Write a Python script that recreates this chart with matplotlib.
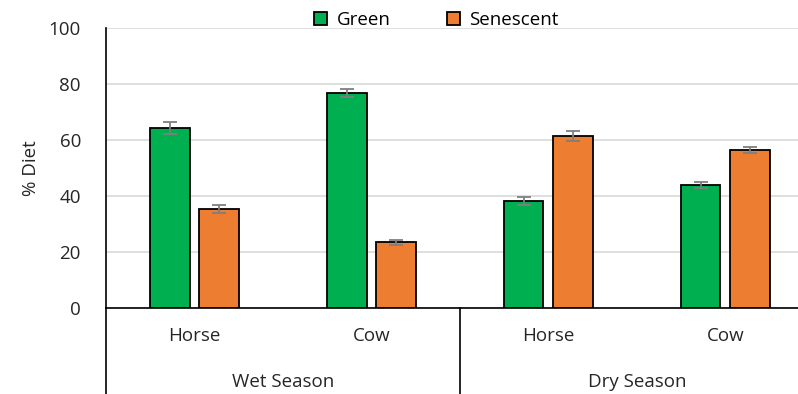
import numpy as np
import matplotlib.pyplot as plt

plt.rcParams['font.family'] = ['Open Sans', 'DejaVu Sans']

animals = ['Horse', 'Cow', 'Horse', 'Cow']
seasons = ['Wet Season', 'Dry Season']
green = [64.3, 76.8, 38.2, 43.9]
green_err = [2.0, 1.3, 1.4, 1.2]
senescent = [35.4, 23.4, 61.4, 56.4]
senescent_err = [1.5, 0.9, 1.8, 1.2]

fig = plt.figure(figsize=(7.98, 3.94), dpi=100)
ax = fig.add_axes([0.1328, 0.2183, 0.887, 0.7107])

x = np.arange(len(animals))
w = 0.225
off = 0.14
ax.bar(x - off, green, w, color='#00b050', edgecolor='black', linewidth=1.3,
       label='Green', zorder=3)
ax.bar(x + off, senescent, w, color='#ed7d31', edgecolor='black', linewidth=1.3,
       label='Senescent', zorder=3)
ax.errorbar(x - off, green, yerr=green_err, fmt='none', ecolor='#7f7f7f',
            elinewidth=1.3, capsize=5, capthick=1.3, zorder=4)
ax.errorbar(x + off, senescent, yerr=senescent_err, fmt='none', ecolor='#7f7f7f',
            elinewidth=1.3, capsize=5, capthick=1.3, zorder=4)

fs = 13.5
ax.set_xlim(-0.5, 3.5)
ax.set_ylim(0, 100)
ax.set_yticks(range(0, 101, 20))
ax.yaxis.grid(True, color='#d9d9d9', linewidth=1.2, zorder=0)
ax.set_axisbelow(True)
ax.tick_params(axis='y', length=0, labelsize=fs, pad=18, colors='#262626')
ax.tick_params(axis='x', length=0, labelsize=fs, pad=14, colors='#262626')
ax.set_xticks(x, animals)
for s in ['top', 'right']:
    ax.spines[s].set_visible(False)
ax.spines['left'].set_linewidth(1.2)
ax.spines['bottom'].set_linewidth(1.2)

# season separators and labels
for xs in [-0.5, 1.5]:
    ax.plot([xs, xs], [0, -0.32], color='black', linewidth=1.2,
            transform=ax.get_xaxis_transform(), clip_on=False)
for i, s in enumerate(seasons):
    ax.text(2 * i + 0.5, -0.265, s, ha='center', va='center', fontsize=fs,
            color='#262626', transform=ax.get_xaxis_transform())

ax.set_ylabel('% Diet', fontsize=fs, color='#262626', labelpad=6)

fig.legend(loc='center', bbox_to_anchor=(0.547, 0.95), ncol=2, frameon=False,
           fontsize=fs, handlelength=0.7, handleheight=0.7, columnspacing=3.0,
           handletextpad=0.5)

fig.savefig('out.png', dpi=100)
